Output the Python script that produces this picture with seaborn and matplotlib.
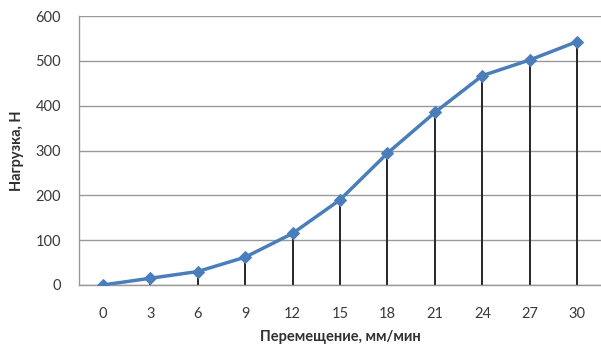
import matplotlib
matplotlib.use("Agg")
import matplotlib.pyplot as plt
import seaborn as sns
import pandas as pd

# Load vs. displacement rate
displacement = [0, 3, 6, 9, 12, 15, 18, 21, 24, 27, 30]
load = [0, 15, 30, 62, 115, 190, 294, 385, 467, 502, 543]
y_ticks = [0, 100, 200, 300, 400, 500, 600]

df = pd.DataFrame({"x": displacement, "y": load})

sns.set_theme(style="white")
plt.rcParams["font.family"] = ["Lato", "DejaVu Sans"]

fig = plt.figure(figsize=(6.01, 3.48), dpi=100)
ax = fig.add_axes([79 / 601, 1 - 285 / 348, (601 - 79) / 601, (285 - 16) / 348])

# drop lines from each point down to the axis
ax.vlines(df["x"], 0, df["y"], color="#262626", linewidth=1.4, zorder=2)

sns.lineplot(data=df, x="x", y="y", ax=ax, color="#4a7ebb", linewidth=2.5,
             marker="D", markersize=6.5, markeredgecolor="#4a7ebb", zorder=3)

ax.set_xlim(-1.5, 31.5)
ax.set_ylim(0, 600)
ax.set_xticks(displacement)
ax.set_yticks(y_ticks)
ax.yaxis.grid(True, color="#999999", linewidth=1)
ax.set_axisbelow(True)

for s in ["top", "right"]:
    ax.spines[s].set_visible(False)
ax.spines["left"].set_color("#999999")
ax.spines["bottom"].set_color("#999999")
ax.spines["left"].set_linewidth(1)
ax.spines["bottom"].set_linewidth(1)

ax.tick_params(axis="y", which="major", length=6, color="#999999", width=1,
               labelsize=10.5, labelcolor="#3a3a3a", pad=7)
ax.tick_params(axis="x", which="major", length=0, labelsize=10.5,
               labelcolor="#3a3a3a", pad=16)

ax.set_xlabel("Перемещение, мм/мин", fontsize=10.5, fontweight="bold",
              color="#303030", labelpad=6)
ax.set_ylabel("Нагрузка, Н", fontsize=10.5, fontweight="bold",
              color="#303030", labelpad=8)

fig.savefig("out.png", dpi=100)
